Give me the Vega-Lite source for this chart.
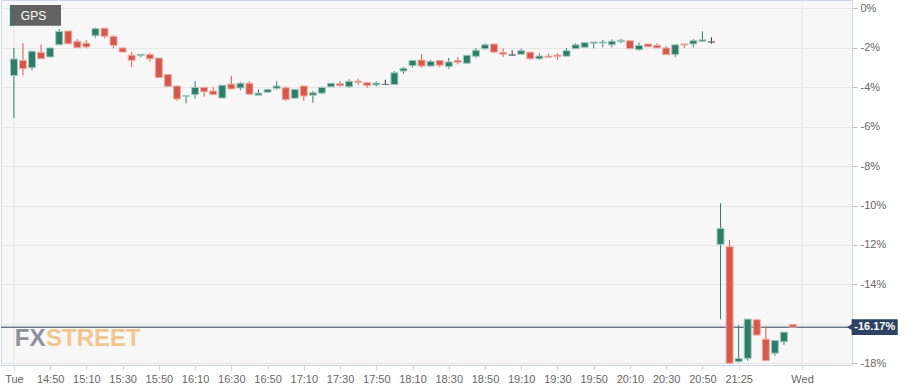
{
  "$schema": "https://vega.github.io/schema/vega-lite/v6.json",
  "width": 851,
  "height": 365,
  "autosize": {"type": "none"},
  "padding": {"left": 1, "top": 0, "right": 65, "bottom": 27},
  "background": "#ffffff",
  "config": {
    "view": {"fill": "#f7f7f7", "stroke": "#ccd6eb", "strokeWidth": 1},
    "font": "Liberation Sans, Arial, sans-serif"
  },
  "data": {
    "values": [
      {"i": 0, "o": -3.41, "h": -2.01, "l": -5.56, "c": -2.57},
      {"i": 1, "o": -2.64, "h": -1.76, "l": -3.40, "c": -3.06},
      {"i": 2, "o": -3.01, "h": -2.15, "l": -3.14, "c": -2.18},
      {"i": 3, "o": -2.23, "h": -1.83, "l": -2.56, "c": -2.56},
      {"i": 4, "o": -2.47, "h": -2.01, "l": -2.47, "c": -2.01},
      {"i": 5, "o": -1.85, "h": -1.05, "l": -1.85, "c": -1.17},
      {"i": 6, "o": -1.15, "h": -1.15, "l": -1.80, "c": -1.80},
      {"i": 7, "o": -1.67, "h": -1.57, "l": -2.00, "c": -2.00},
      {"i": 8, "o": -1.77, "h": -1.62, "l": -2.03, "c": -1.96},
      {"i": 9, "o": -1.39, "h": -0.98, "l": -1.49, "c": -1.03},
      {"i": 10, "o": -1.01, "h": -1.01, "l": -1.52, "c": -1.42},
      {"i": 11, "o": -1.42, "h": -1.37, "l": -2.03, "c": -1.88},
      {"i": 12, "o": -2.01, "h": -2.01, "l": -2.22, "c": -2.22},
      {"i": 13, "o": -2.38, "h": -2.22, "l": -2.98, "c": -2.64},
      {"i": 14, "o": -2.40, "h": -2.33, "l": -2.48, "c": -2.33},
      {"i": 15, "o": -2.35, "h": -2.27, "l": -2.69, "c": -2.56},
      {"i": 16, "o": -2.52, "h": -2.52, "l": -3.52, "c": -3.52},
      {"i": 17, "o": -3.35, "h": -3.35, "l": -3.96, "c": -3.96},
      {"i": 18, "o": -3.94, "h": -3.94, "l": -4.69, "c": -4.60},
      {"i": 19, "o": -4.46, "h": -4.43, "l": -4.82, "c": -4.43},
      {"i": 20, "o": -4.38, "h": -3.69, "l": -4.58, "c": -4.01},
      {"i": 21, "o": -4.01, "h": -4.01, "l": -4.48, "c": -4.23},
      {"i": 22, "o": -4.19, "h": -4.01, "l": -4.38, "c": -4.38},
      {"i": 23, "o": -4.55, "h": -3.90, "l": -4.55, "c": -3.90},
      {"i": 24, "o": -3.84, "h": -3.43, "l": -4.09, "c": -4.09},
      {"i": 25, "o": -4.04, "h": -3.74, "l": -4.16, "c": -3.80},
      {"i": 26, "o": -3.80, "h": -3.70, "l": -4.36, "c": -4.36},
      {"i": 27, "o": -4.41, "h": -4.11, "l": -4.41, "c": -4.30},
      {"i": 28, "o": -4.26, "h": -4.11, "l": -4.26, "c": -4.11},
      {"i": 29, "o": -4.06, "h": -3.70, "l": -4.13, "c": -3.94},
      {"i": 30, "o": -4.03, "h": -3.96, "l": -4.69, "c": -4.63},
      {"i": 31, "o": -4.56, "h": -4.11, "l": -4.56, "c": -4.11},
      {"i": 32, "o": -3.94, "h": -3.94, "l": -4.69, "c": -4.45},
      {"i": 33, "o": -4.41, "h": -4.19, "l": -4.79, "c": -4.28},
      {"i": 34, "o": -4.30, "h": -3.96, "l": -4.36, "c": -4.01},
      {"i": 35, "o": -3.98, "h": -3.80, "l": -3.98, "c": -3.80},
      {"i": 36, "o": -3.82, "h": -3.70, "l": -3.98, "c": -3.92},
      {"i": 37, "o": -3.98, "h": -3.60, "l": -4.03, "c": -3.70},
      {"i": 38, "o": -3.69, "h": -3.57, "l": -3.90, "c": -3.75},
      {"i": 39, "o": -3.77, "h": -3.77, "l": -4.03, "c": -3.92},
      {"i": 40, "o": -3.89, "h": -3.70, "l": -3.96, "c": -3.79},
      {"i": 41, "o": -3.86, "h": -3.62, "l": -3.88, "c": -3.86},
      {"i": 42, "o": -3.87, "h": -3.19, "l": -3.87, "c": -3.27},
      {"i": 43, "o": -3.18, "h": -2.98, "l": -3.32, "c": -3.04},
      {"i": 44, "o": -2.91, "h": -2.64, "l": -3.01, "c": -2.64},
      {"i": 45, "o": -2.62, "h": -2.32, "l": -3.01, "c": -2.93},
      {"i": 46, "o": -2.93, "h": -2.62, "l": -2.93, "c": -2.69},
      {"i": 47, "o": -2.64, "h": -2.64, "l": -2.99, "c": -2.89},
      {"i": 48, "o": -2.96, "h": -2.52, "l": -3.06, "c": -2.72},
      {"i": 49, "o": -2.64, "h": -2.47, "l": -2.84, "c": -2.74},
      {"i": 50, "o": -2.79, "h": -2.38, "l": -2.79, "c": -2.38},
      {"i": 51, "o": -2.43, "h": -2.01, "l": -2.51, "c": -2.13},
      {"i": 52, "o": -2.05, "h": -1.77, "l": -2.11, "c": -1.85},
      {"i": 53, "o": -1.81, "h": -1.81, "l": -2.27, "c": -2.22},
      {"i": 54, "o": -2.23, "h": -2.03, "l": -2.48, "c": -2.33},
      {"i": 55, "o": -2.37, "h": -2.13, "l": -2.40, "c": -2.37},
      {"i": 56, "o": -2.33, "h": -2.05, "l": -2.33, "c": -2.15},
      {"i": 57, "o": -2.22, "h": -2.22, "l": -2.61, "c": -2.56},
      {"i": 58, "o": -2.56, "h": -2.28, "l": -2.61, "c": -2.42},
      {"i": 59, "o": -2.42, "h": -2.30, "l": -2.48, "c": -2.48},
      {"i": 60, "o": -2.37, "h": -2.28, "l": -2.61, "c": -2.45},
      {"i": 61, "o": -2.43, "h": -2.01, "l": -2.43, "c": -2.15},
      {"i": 62, "o": -2.05, "h": -1.77, "l": -2.05, "c": -1.85},
      {"i": 63, "o": -1.98, "h": -1.74, "l": -1.98, "c": -1.74},
      {"i": 64, "o": -1.77, "h": -1.71, "l": -2.03, "c": -1.71},
      {"i": 65, "o": -1.76, "h": -1.61, "l": -1.98, "c": -1.71},
      {"i": 66, "o": -1.85, "h": -1.57, "l": -1.98, "c": -1.67},
      {"i": 67, "o": -1.69, "h": -1.56, "l": -1.77, "c": -1.62},
      {"i": 68, "o": -1.64, "h": -1.64, "l": -2.05, "c": -2.05},
      {"i": 69, "o": -2.10, "h": -1.74, "l": -2.15, "c": -1.88},
      {"i": 70, "o": -1.81, "h": -1.81, "l": -1.95, "c": -1.95},
      {"i": 71, "o": -1.88, "h": -1.77, "l": -2.01, "c": -2.01},
      {"i": 72, "o": -2.01, "h": -1.91, "l": -2.35, "c": -2.35},
      {"i": 73, "o": -2.35, "h": -1.85, "l": -2.48, "c": -1.85},
      {"i": 74, "o": -1.81, "h": -1.81, "l": -2.01, "c": -1.86},
      {"i": 75, "o": -1.81, "h": -1.57, "l": -1.98, "c": -1.64},
      {"i": 76, "o": -1.67, "h": -1.17, "l": -1.67, "c": -1.59},
      {"i": 77, "o": -1.71, "h": -1.47, "l": -1.80, "c": -1.71},
      {"i": 78, "o": -11.97, "h": -9.89, "l": -15.77, "c": -11.16},
      {"i": 79, "o": -12.09, "h": -11.75, "l": -18.02, "c": -18.00},
      {"i": 80, "o": -17.92, "h": -16.07, "l": -17.95, "c": -17.75},
      {"i": 81, "o": -17.75, "h": -15.76, "l": -17.87, "c": -15.76},
      {"i": 82, "o": -15.79, "h": -15.79, "l": -16.57, "c": -16.57},
      {"i": 83, "o": -16.78, "h": -16.15, "l": -17.87, "c": -17.87},
      {"i": 84, "o": -17.49, "h": -16.84, "l": -17.62, "c": -16.84},
      {"i": 85, "o": -16.91, "h": -16.42, "l": -17.07, "c": -16.42},
      {"i": 86, "o": -16.03, "h": -16.03, "l": -16.17, "c": -16.17}
    ]
  },
  "layer": [
    {
      "data": {"values": [{"g": 0}, {"g": 87}]},
      "mark": {"type": "rule", "color": "#e6e6e6", "strokeWidth": 1},
      "encoding": {"x": {"field": "g", "type": "quantitative", "title": null}}
    },
    {
      "data": {"values": [{"t": "FX"}]},
      "mark": {"type": "text", "align": "right", "baseline": "alphabetic", "fontWeight": "bold", "fontSize": 24, "color": "#8d909a", "font": "Liberation Sans, Arial, sans-serif"},
      "encoding": {"x": {"datum": 3.49}, "y": {"datum": -17.12}, "text": {"field": "t"}}
    },
    {
      "data": {"values": [{"t": "STREET"}]},
      "mark": {"type": "text", "align": "left", "baseline": "alphabetic", "fontWeight": "bold", "fontSize": 24, "color": "#f2c48e", "font": "Liberation Sans, Arial, sans-serif"},
      "encoding": {"x": {"datum": 3.55}, "y": {"datum": -17.12}, "text": {"field": "t"}}
    },
    {
      "data": {"values": [{"p": -16.17}]},
      "mark": {"type": "rule", "color": "#2b3b58", "strokeWidth": 1},
      "encoding": {"y": {"field": "p", "type": "quantitative", "title": null}}
    },
    {
      "mark": {"type": "rule", "strokeWidth": 1},
      "encoding": {
        "x": {"field": "i", "type": "quantitative", "title": null},
        "y": {"field": "l", "type": "quantitative", "title": null},
        "y2": {"field": "h"},
        "color": {
          "condition": [
            {"test": "datum.c > datum.o", "value": "#2e7d69"},
            {"test": "datum.c < datum.o", "value": "#d6584a"}
          ],
          "value": "#333333"
        }
      }
    },
    {
      "mark": {"type": "bar", "size": 7, "strokeWidth": 1},
      "encoding": {
        "x": {
          "field": "i", "type": "quantitative", "title": null,
          "scale": {"domain": [-0.873, 91.96], "nice": false, "zero": false},
          "axis": {
            "values": [0, 4, 8, 12, 16, 20, 24, 28, 32, 36, 40, 44, 48, 52, 56, 60, 64, 68, 72, 76, 80, 87],
            "labelExpr": "datum.value == 87 ? 'Wed' : ['Tue','14:50','15:10','15:30','15:50','16:10','16:30','16:50','17:10','17:30','17:50','18:10','18:30','18:50','19:10','19:30','19:50','20:10','20:30','20:50','21:25'][datum.value / 4]",
            "grid": false,
            "domainColor": "#ccd6eb",
            "tickColor": "#ccd6eb",
            "tickSize": 5,
            "labelColor": "#666666",
            "labelFontSize": 11,
            "labelFont": "Liberation Sans, Arial, sans-serif",
            "labelPadding": 3,
            "labelOverlap": false,
            "labelFlush": false,
            "labelBound": false
          }
        },
        "y": {
          "field": "o", "type": "quantitative", "title": null,
          "scale": {"domain": [-18.088, 0.421], "nice": false, "zero": false},
          "axis": {
            "orient": "right",
            "values": [0, -2, -4, -6, -8, -10, -12, -14, -16, -18],
            "labelExpr": "datum.value == -16 ? '' : datum.value + '%'",
            "grid": true,
            "gridColor": "#e6e6e6",
            "domainColor": "#ccd6eb",
            "tickColor": "#b8bfcf",
            "tickSize": 5,
            "labelColor": "#666666",
            "labelFontSize": 11,
            "labelFont": "Liberation Sans, Arial, sans-serif",
            "labelPadding": 3,
            "labelOverlap": false,
            "labelFlush": false,
            "labelBound": false
          }
        },
        "y2": {"field": "c"},
        "fill": {
          "condition": [
            {"test": "datum.c > datum.o", "value": "#2e7d69"},
            {"test": "datum.c < datum.o", "value": "#d6584a"}
          ],
          "value": "#333333"
        },
        "stroke": {
          "condition": [
            {"test": "datum.c > datum.o", "value": "#a3cbbf"},
            {"test": "datum.c < datum.o", "value": "#f0aea6"}
          ],
          "value": "#777777"
        }
      }
    },
    {
      "data": {"values": [{"s": "GPS"}]},
      "layer": [
        {
          "mark": {"type": "rect", "color": "#555555", "opacity": 0.92},
          "encoding": {"x": {"datum": -0.436}, "x2": {"datum": 5.2}, "y": {"datum": 0.167}, "y2": {"datum": -0.882}}
        },
        {
          "mark": {"type": "rect", "color": "#2e7d69"},
          "encoding": {"x": {"datum": -0.436}, "x2": {"datum": -0.218}, "y": {"datum": 0.167}, "y2": {"datum": -0.882}}
        },
        {
          "mark": {"type": "text", "align": "left", "baseline": "middle", "color": "#ffffff", "fontSize": 12, "font": "Liberation Sans, Arial, sans-serif"},
          "encoding": {"x": {"datum": 0.764}, "y": {"datum": -0.37}, "text": {"field": "s"}}
        }
      ]
    },
    {
      "data": {"values": [{"p": -16.17, "s": "-16.17%"}]},
      "layer": [
        {
          "mark": {"type": "point", "shape": "triangle-left", "filled": true, "size": 40, "color": "#2d4262", "opacity": 1},
          "encoding": {"x": {"datum": 92.25}, "y": {"field": "p", "type": "quantitative", "title": null}}
        },
        {
          "mark": {"type": "rect", "color": "#2d4262"},
          "encoding": {"x": {"datum": 92.47}, "x2": {"datum": 97.56}, "y": {"datum": -15.77}, "y2": {"datum": -16.57}}
        },
        {
          "mark": {"type": "text", "align": "center", "baseline": "middle", "color": "#ffffff", "fontSize": 11, "fontWeight": "bold", "font": "Liberation Sans, Arial, sans-serif"},
          "encoding": {"x": {"datum": 95.02}, "y": {"field": "p", "type": "quantitative", "title": null}, "text": {"field": "s"}}
        }
      ]
    }
  ]
}
